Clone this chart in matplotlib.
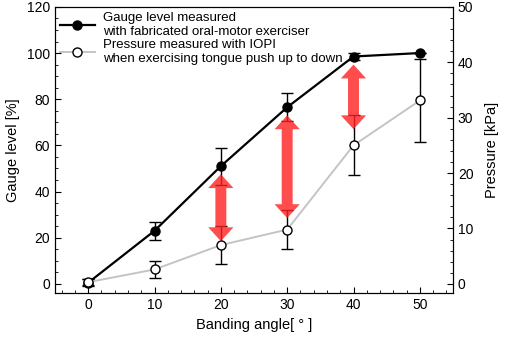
import numpy as np
import matplotlib
matplotlib.use("Agg")
import matplotlib.pyplot as plt
from matplotlib.patches import Polygon
from matplotlib.lines import Line2D
from matplotlib.ticker import MultipleLocator

plt.rcParams["font.family"] = ["Liberation Sans", "DejaVu Sans"]
plt.rcParams["font.size"] = 10

# --- data ---
angle = [0, 10, 20, 30, 40, 50]
gauge = [0.5, 23, 51, 76.5, 98.5, 100]          # [%]
gauge_err = [1.5, 4, 8, 6, 1.5, 0]
pressure = [0.3, 2.6, 7.0, 9.8, 25.0, 33.1]     # [kPa]
pressure_err = [0.5, 1.5, 3.5, 3.5, 5.4, 7.5]

# red arrows (in gauge %)
arrow_x = [20, 30, 40]
arrow_top = [47.5, 73, 95]
arrow_bottom = [18.5, 28.5, 67]

labels = ["Gauge level measured\nwith fabricated oral-motor exerciser",
          "Pressure measured with IOPI\nwhen exercising tongue push up to down"]

fig = plt.figure(figsize=(5.05, 3.44), dpi=100)
ax = fig.add_axes([0.109, 0.148, 0.788, 0.832])
ax2 = ax.twinx()

ax.errorbar(angle, gauge, yerr=gauge_err, color="black", lw=1.6, marker="o",
            ms=6.5, mfc="black", mec="black", ecolor="black", elinewidth=1,
            capsize=4.5, capthick=1, zorder=3)
ax2.errorbar(angle, pressure, yerr=pressure_err, color="#c4c4c4", lw=1.4, marker="o",
             ms=6.5, mfc="white", mec="black", mew=1, ecolor="black", elinewidth=1,
             capsize=4.5, capthick=1, zorder=3)

# double headed arrows
shaft_w, head_w, head_l = 1.65, 3.8, 6.0
for x, t, b in zip(arrow_x, arrow_top, arrow_bottom):
    pts = [(x, t), (x + head_w / 2, t - head_l), (x + shaft_w / 2, t - head_l),
           (x + shaft_w / 2, b + head_l), (x + head_w / 2, b + head_l), (x, b),
           (x - head_w / 2, b + head_l), (x - shaft_w / 2, b + head_l),
           (x - shaft_w / 2, t - head_l), (x - head_w / 2, t - head_l)]
    ax2.add_patch(Polygon(pts, closed=True, facecolor="#ff2020", edgecolor="none",
                          alpha=0.8, transform=ax.transData, zorder=5))

ax.set_xlim(-5, 55)
ax.set_ylim(-4, 120)
ax2.set_ylim(-4 / 2.4, 50)

ax.xaxis.set_major_locator(MultipleLocator(10))
ax.xaxis.set_minor_locator(MultipleLocator(2))
ax.yaxis.set_major_locator(MultipleLocator(20))
ax.yaxis.set_minor_locator(MultipleLocator(5))
ax2.yaxis.set_major_locator(MultipleLocator(10))
ax2.yaxis.set_minor_locator(MultipleLocator(2))

ax.tick_params(which="both", direction="in", top=False, right=False, labelsize=10)
ax.tick_params(which="major", length=4)
ax.tick_params(which="minor", length=2.5)
ax2.tick_params(which="both", direction="in", labelsize=10)
ax2.tick_params(which="major", length=4)
ax2.tick_params(which="minor", length=2.5)

ax.set_xlabel("Banding angle[ ° ]", fontsize=10.5)
ax.set_ylabel("Gauge level [%]", fontsize=10.5, labelpad=5)
ax2.set_ylabel("Pressure [kPa]", fontsize=10.5, labelpad=8)

handles = [Line2D([], [], color="black", lw=1.6, marker="o", ms=6.5, mfc="black", mec="black"),
           Line2D([], [], color="#c4c4c4", lw=1.4, marker="o", ms=6.5, mfc="white", mec="black", mew=1)]
ax2.legend(handles, labels, loc="upper left", frameon=False, fontsize=9.5,
           handlelength=2.6, handletextpad=0.6, borderaxespad=0.1,
           borderpad=0.3, labelspacing=0.1)

fig.savefig("out.png", dpi=100)
